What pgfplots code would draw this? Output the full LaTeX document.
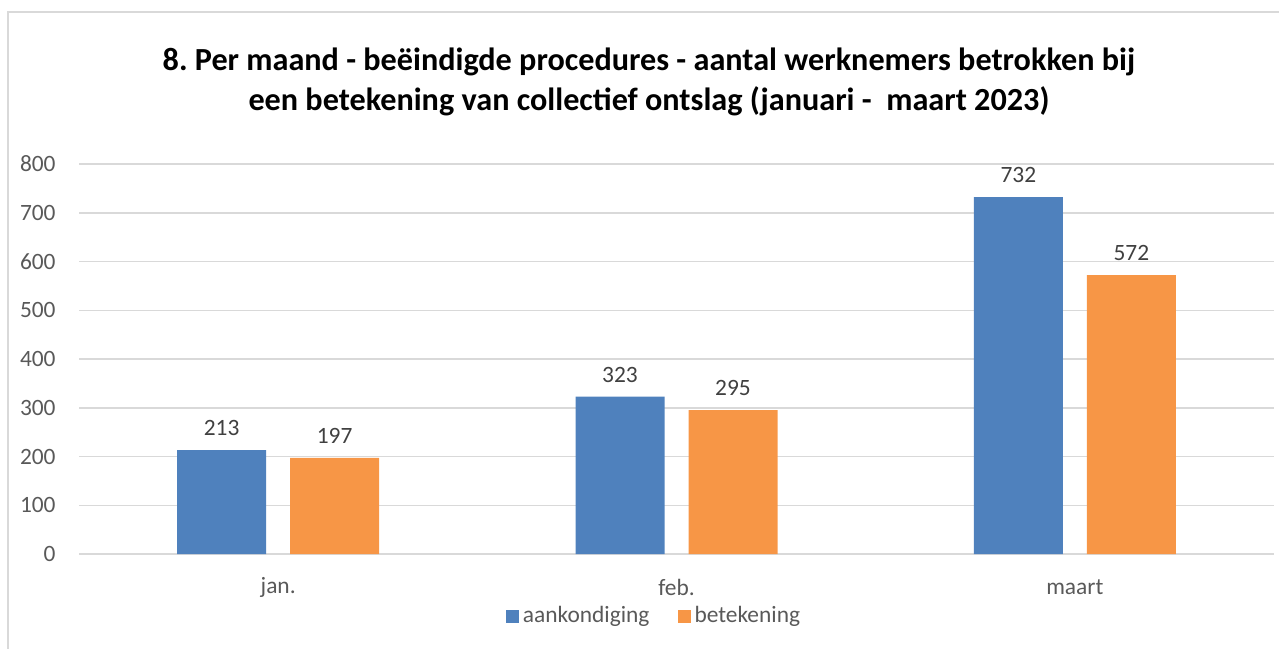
\documentclass[border=0pt]{standalone}
\usepackage{pgfplots}
\pgfplotsset{compat=1.18}
\usepackage{fontspec}
\setmainfont{Carlito}
\frenchspacing

\definecolor{barblue}{HTML}{4F81BD}
\definecolor{barorange}{HTML}{F79646}
\definecolor{gridgray}{HTML}{D9D9D9}
\definecolor{ticktext}{HTML}{595959}
\definecolor{labeltext}{HTML}{404040}

\begin{document}
\begin{tikzpicture}
% page = 1279 x 648 px, 1 px = 0.5 pt
\useasboundingbox (0,0) rectangle (639.5pt,324pt);
\begin{scope}
\clip (0,0) rectangle (639.5pt,324pt);
\draw[gridgray, line width=1pt] (4pt,318pt) rectangle (660pt,-20pt);
\end{scope}

\node[align=center, font=\fontsize{16.1}{20}\selectfont\bfseries] at (324.5pt,283pt)
  {8. Per maand - beëindigde procedures - aantal werknemers betrokken bij\\
   een betekening van collectief ontslag (januari -\ \ maart 2023)};

\begin{axis}[
  at={(39.5pt,47pt)}, anchor=south west,
  scale only axis,
  width=597.5pt, height=195pt,
  xmin=-0.5, xmax=2.5,
  ymin=0, ymax=800,
  xtick={0,1,2},
  xticklabels={jan.,feb.,maart},
  ytick={0,100,...,800},
  axis line style={draw=none},
  major tick length=0pt,
  ymajorgrids,
  grid style={gridgray, line width=0.75pt},
  extra y ticks={0},
  extra y tick labels={},
  extra y tick style={grid style={gridgray, line width=0.9pt}},
  tick label style={font=\fontsize{11.7}{13}\selectfont, text=ticktext},
  yticklabel style={anchor=east, inner sep=0pt, xshift=-11.5pt},
  xticklabel style={anchor=center, inner sep=0pt, yshift=-16.5pt},
  /pgf/number format/assume math mode=true,
  ybar,
  bar width=44.5pt,
  nodes near coords,
  every node near coord/.append style={font=\fontsize{11.7}{13}\selectfont, text=labeltext, yshift=3.5pt},
  legend columns=2,
  legend style={at={(0.5,0)}, anchor=center, xshift=-10.75pt, yshift=-31pt,
    draw=none, fill=none, font=\fontsize{11.7}{13}\selectfont, text=ticktext,
    /tikz/every even column/.append style={column sep=12pt}},
  legend image code/.code={\fill[#1] (0pt,-3.25pt) rectangle (6.5pt,3.25pt);},
]
\addplot[fill=barblue, draw=none, bar shift=-28.25pt] coordinates {(0,213) (1,323) (2,732)};
\addlegendentry{aankondiging}
\addplot[fill=barorange, draw=none, bar shift=28.25pt] coordinates {(0,197) (1,295) (2,572)};
\addlegendentry{betekening}
\end{axis}
\end{tikzpicture}
\end{document}
